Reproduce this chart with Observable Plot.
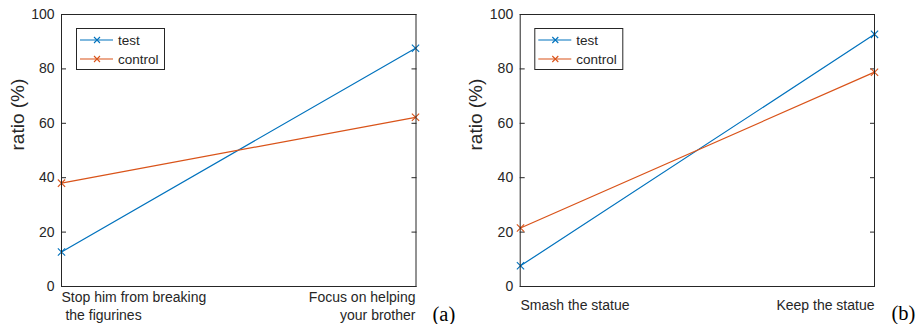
<!DOCTYPE html>
<html><head><meta charset="utf-8">
<script src="https://cdn.jsdelivr.net/npm/d3@7"></script>
<script src="https://cdn.jsdelivr.net/npm/@observablehq/plot@0.6"></script>
<style>
body{margin:0;background:#fff;}
#wrap{position:relative;width:922px;height:324px;overflow:hidden;background:#fff;}
.panel{position:absolute;top:0;}
#overlay{position:absolute;left:0;top:0;pointer-events:none;}
</style></head><body><div id="wrap"></div>
<script>
const series = ["test", "control"];
const colors = ["#0072BD", "#D95319"];
const catsA = ["Stop him from breaking\n\u00a0the figurines", "Focus on helping\nyour brother"];
const testA = [12.7, 87.6];
const controlA = [38.0, 62.2];
const catsB = ["Smash the statue", "Keep the statue"];
const testB = [7.6, 92.7];
const controlB = [21.5, 78.8];
const yTicks = [0, 20, 40, 60, 80, 100];
const yLabel = "ratio (%)";
const panelTags = ["(a)", "(b)"];

const ink = "#262626";
const font = "Liberation Sans, Arial, sans-serif";

function panel(cats, test, control, o) {
  const vals = [test, control];
  const rows = series.flatMap((s, i) => cats.map((c, j) => ({series: s, cat: c, value: vals[i][j]})));
  return Plot.plot({
    width: 461, height: 324,
    marginLeft: o.ml, marginRight: o.mr, marginTop: 14, marginBottom: 38,
    style: {fontFamily: font, fontSize: "14px", color: ink, background: "white", overflow: "visible"},
    x: {type: "point", domain: cats, padding: 0},
    y: {domain: [0, 100]},
    color: {domain: series, range: colors},
    marks: [
      Plot.axisY({anchor: "left", ticks: yTicks, tickSize: 0, tickPadding: 7, label: null, fill: ink}),
      Plot.axisY({anchor: "left", ticks: yTicks, tickSize: -5, tickFormat: () => "", label: null, stroke: ink}),
      Plot.axisY({anchor: "right", ticks: yTicks, tickSize: -5, tickFormat: () => "", label: null, stroke: ink}),
      Plot.axisX({ticks: [cats[0]], tickSize: 0, tickPadding: o.tp, textAnchor: "start", lineHeight: 1.29, label: null, fill: ink}),
      Plot.axisX({ticks: [cats[1]], tickSize: 0, tickPadding: o.tp, textAnchor: "end", lineHeight: 1.29, label: null, fill: ink}),
      Plot.text([yLabel], {frameAnchor: "left", rotate: -90, dx: -44, fontSize: 19, fill: ink}),
      Plot.line(rows, {x: "cat", y: "value", z: "series", stroke: "series", strokeWidth: 1.2}),
      Plot.dot(rows, {x: "cat", y: "value", stroke: "series", symbol: "times", r: 3.4, strokeWidth: 1.1}),
      Plot.frame({stroke: ink, strokeWidth: 1})
    ]
  });
}

const wrap = document.getElementById("wrap");
const pA = panel(catsA, testA, controlA, {ml: 61, mr: 45.5, tp: 3});
const pB = panel(catsB, testB, controlB, {ml: 58.7, mr: 48, tp: 11});
pA.classList.add("panel"); pA.style.left = "0px";
pB.classList.add("panel"); pB.style.left = "461px";
wrap.appendChild(pA); wrap.appendChild(pB);

// legends and panel tags
const ov = d3.select(wrap).append("svg").attr("id", "overlay").attr("width", 922).attr("height", 324);
[76, 534.3].forEach(x0 => {
  const g = ov.append("g").attr("transform", `translate(${x0},28)`);
  g.append("rect").attr("x", 0.5).attr("y", 0.5).attr("width", 88).attr("height", 41)
    .attr("fill", "white").attr("stroke", ink).attr("stroke-width", 1);
  series.forEach((s, i) => {
    const y = 12 + i * 19;
    g.append("line").attr("x1", 4).attr("x2", 37).attr("y1", y).attr("y2", y)
      .attr("stroke", colors[i]).attr("stroke-width", 1.2);
    g.append("path").attr("d", `M${21-3},${y-3}L${21+3},${y+3}M${21-3},${y+3}L${21+3},${y-3}`)
      .attr("stroke", colors[i]).attr("stroke-width", 1.1);
    g.append("text").attr("x", 42).attr("y", y).attr("dy", "0.35em")
      .attr("font-family", font).attr("font-size", 13.5).attr("fill", ink).text(s);
  });
});
[[432.5, 321], [891.5, 320]].forEach(([x, y], i) => {
  ov.append("text").attr("x", x).attr("y", y)
    .attr("font-family", "Liberation Serif, Times New Roman, serif").attr("font-size", 20.5)
    .attr("fill", "#000").text(panelTags[i]);
});
</script></body></html>
